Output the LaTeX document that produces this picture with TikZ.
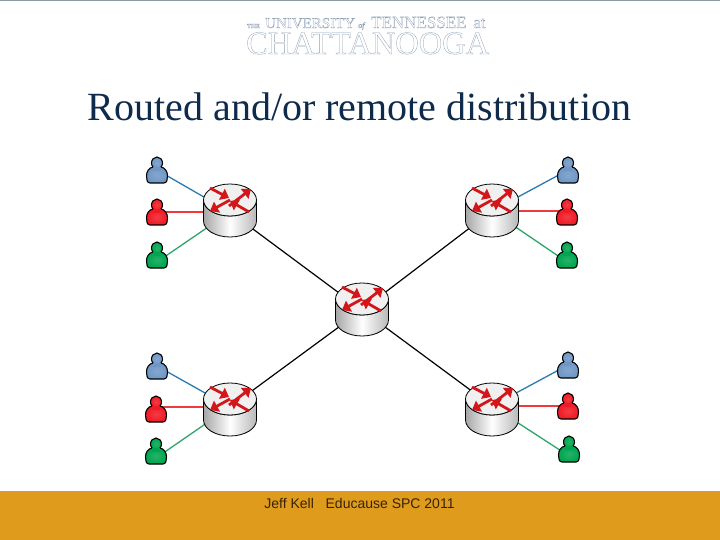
\documentclass[tikz,border=0pt]{standalone}
\usepackage{fontspec}
\setmainfont{Liberation Serif}
\newfontfamily\arialfont{Liberation Sans}
\usetikzlibrary{arrows.meta}
\definecolor{titleblue}{HTML}{0F2B4C}
\definecolor{footgold}{HTML}{DF9C1C}
\definecolor{footink}{HTML}{3A2208}
\definecolor{topbar}{HTML}{8C9AA3}
\definecolor{logoink}{HTML}{8FA0B5}
\definecolor{userblue}{HTML}{6F97C5}
\definecolor{userred}{HTML}{F01A24}
\definecolor{usergreen}{HTML}{00A54F}
\definecolor{lineuserblue}{HTML}{2A7BB0}
\definecolor{lineuserred}{HTML}{EE3A3A}
\definecolor{lineusergreen}{HTML}{2DA66A}
\definecolor{arrowred}{HTML}{D3161A}
\newcommand{\hollow}[1]{\special{pdf:code 1 Tr 0.3 w}#1\special{pdf:code 0 Tr}}
\tikzset{
spot/.style={inner sep=0pt,minimum size=0pt},
logotext/.style={inner sep=0pt,text=logoink,anchor=base west},
redarrow/.style={arrowred,line width=2.8pt,-{Triangle[length=8pt,width=12pt]}},
pics/router/.style={code={
\draw[line width=.8pt,left color=black!35,right color=black!28,middle color=white](-26.5,-11)--(-26.5,10)arc[start angle=180,end angle=0,x radius=26.5,y radius=16]--(26.5,-11)arc[start angle=0,end angle=180,x radius=26.5,y radius=16]--cycle;
\draw[line width=.8pt,fill=black!6](0,-11)ellipse[x radius=26.5,y radius=16];
\draw[redarrow](-20,-23)--(-1,-13);\draw[redarrow](-1,-5)--(21,-22);
\draw[redarrow](0,-11)--(-20,0);\draw[redarrow](19,1)--(0,-10);
}},
pics/person/.style={code={
\draw[line width=1.1pt,inner color=#1!85!white,outer color=#1](-4,-3)to[out=-170,in=90](-10.5,6)to[out=-90,in=180](-7,13)--(7,13)to[out=0,in=-90](10.5,6)to[out=90,in=-10](4,-3)--cycle;
\draw[line width=1.1pt,inner color=#1!85!white,outer color=#1](0,-7)ellipse[x radius=5.5,y radius=6];
\fill[#1](-4,-3)rectangle(4,1);
}},
}
\begin{document}
\begin{tikzpicture}[x=1pt,y=-1pt]
\useasboundingbox(0,0)rectangle(720,540);
\fill[white](0,0)rectangle(720,540);
\fill[topbar](0,0)rectangle(720,1.2);
\fill[footgold](0,491)rectangle(720,540);
\node[logotext,font=\fontsize{6}{6}\selectfont\bfseries](logothe)at(247,28){\hollow{THE}};
\node[logotext,font=\fontsize{15}{15}\selectfont](logouni)at(265,28){\hollow{UNIVERSITY}};
\node[logotext,font=\fontsize{8}{8}\selectfont\itshape](logoof)at(358,28){\hollow{of}};
\node[logotext,font=\fontsize{17}{17}\selectfont](logoten)at(371,28){\hollow{TENNESSEE}};
\node[logotext,font=\fontsize{17}{17}\selectfont](logoat)at(473,28){\hollow{at}};
\node[logotext,font=\fontsize{32.5}{33}\selectfont](logocha)at(246,54){\hollow{CHATTANOOGA}};
\node[inner sep=0pt,text=titleblue,font=\fontsize{40}{40}\selectfont,anchor=base](title)at(359.5,120.5){Routed and/or remote distribution};
\node[inner sep=0pt,text=footink,font=\arialfont\fontsize{14}{14}\selectfont,anchor=base](foot)at(359.5,508){Jeff Kell\ \ \ Educause SPC 2011};
\foreach \name/\x/\y in {rtl/230/212,rtr/492/211,rc/362/310,rbl/230/407,rbr/492/406}
\node[spot](\name)at(\x,\y){};
\foreach \a in {rtl,rtr,rbl,rbr}\draw[line width=1.2pt](\a)--(rc);
\foreach \name/\x/\y/\dy/\col/\to in {
ua/157/170/0/userblue/rtl,ub/157/212/0/userred/rtl,uc/157/262/7/usergreen/rtl,
ud/568/170/0/userblue/rtr,ue/567/211/-1/userred/rtr,uf/567/262/7/usergreen/rtr,
ug/157/366/0/userblue/rbl,uh/156/407/-2/userred/rbl,ui/156/458/7/usergreen/rbl,
uj/568/365/0/userblue/rbr,uk/568/406/0/userred/rbr,ul/569/456/7/usergreen/rbr}{
\node[spot](\name)at(\x,\y){};
\draw[line\col,line width=1.3pt](\name)--(\to);
\pic at([yshift=\dy pt]\name){person=\col};
}
\foreach \a/\dy in {rtl/1,rtr/0,rc/0,rbl/-3,rbr/-4}\pic at([yshift=\dy pt]\a){router};
\end{tikzpicture}
\end{document}
